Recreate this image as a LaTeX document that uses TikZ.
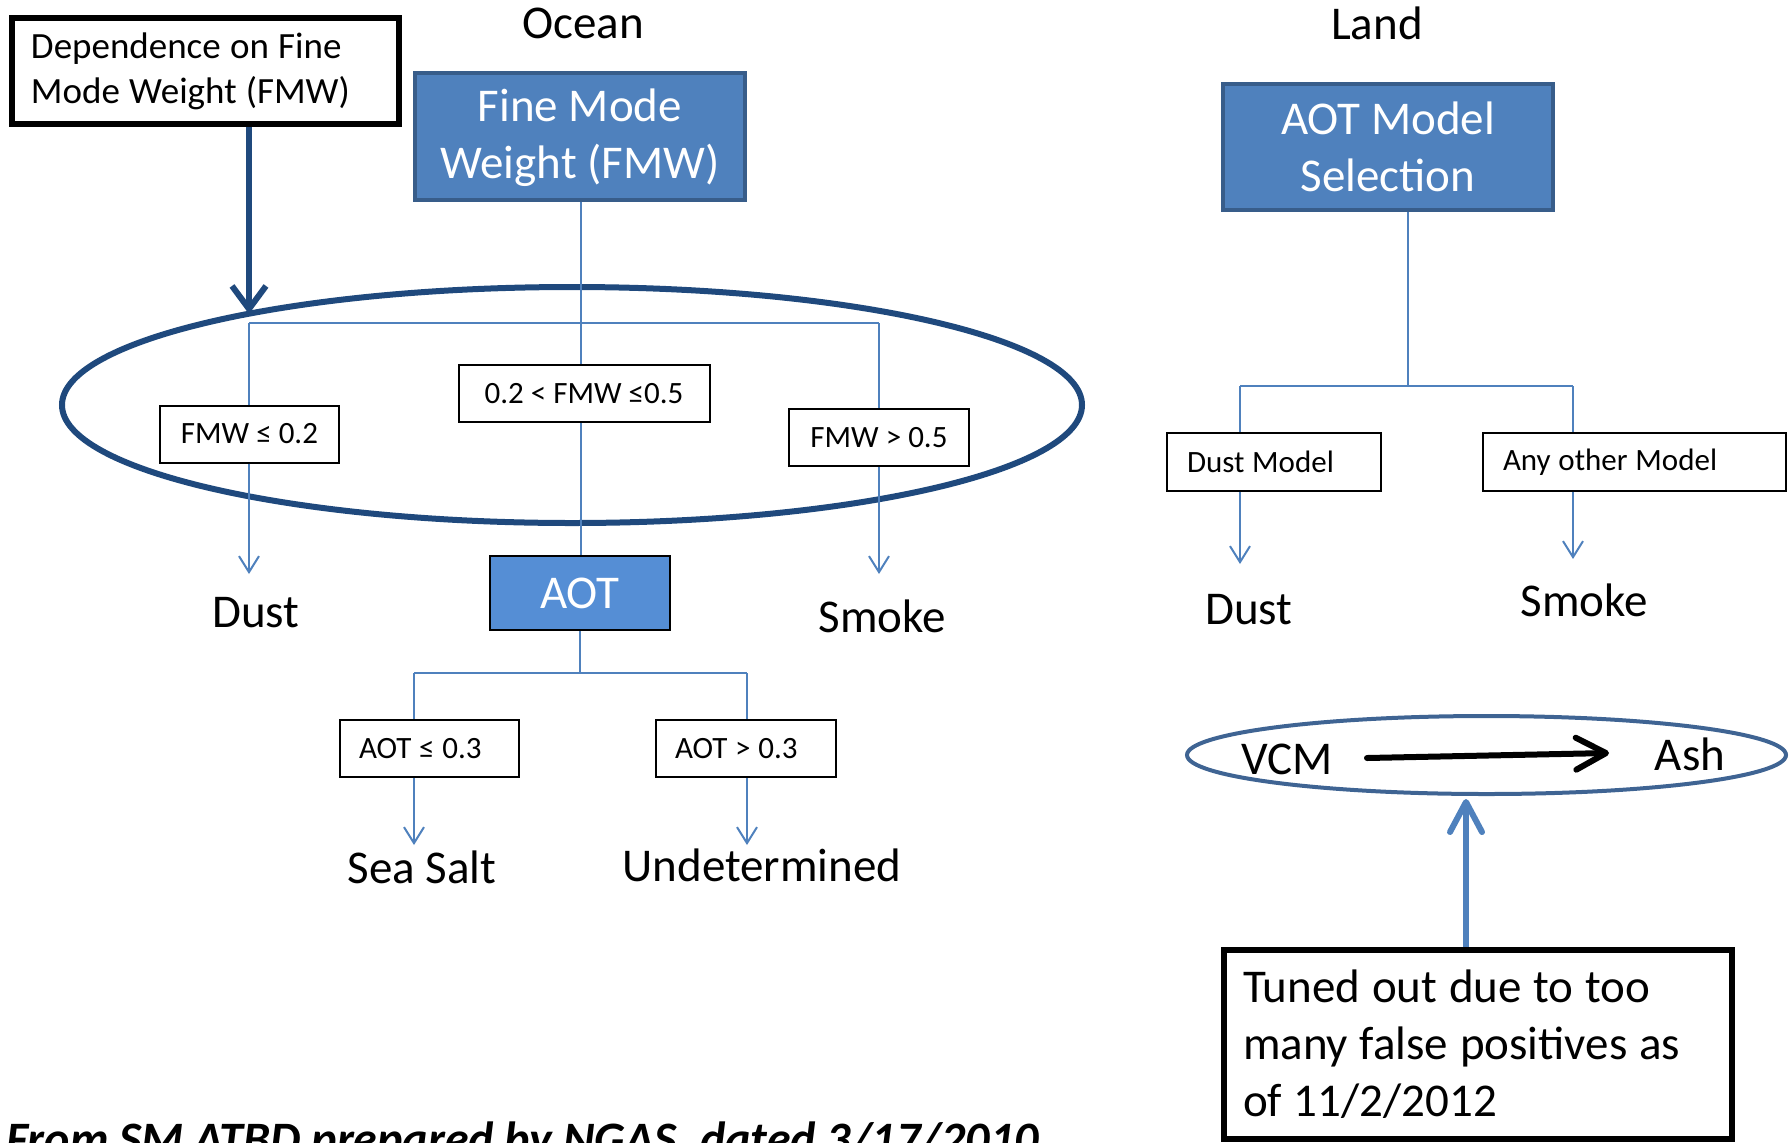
\documentclass[tikz,border=0pt]{standalone}
\usepackage{fontspec}
\setmainfont{Carlito}
\usetikzlibrary{arrows.meta,shapes.geometric}
\definecolor{acc}{HTML}{4F81BD}
\definecolor{accd}{HTML}{385D8A}
\definecolor{navy}{HTML}{1F497D}
\definecolor{aotblue}{HTML}{558ED5}
\definecolor{vcmblue}{HTML}{3F6493}
\newcommand{\natsp}{\spaceskip=0.25em\relax}
\begin{document}
\begin{tikzpicture}[x=0.5pt,y=-0.5pt,
  bigtxt/.style={font=\fontsize{23.5pt}{28.5pt}\selectfont},
  smalltxt/.style={font=\fontsize{15.5pt}{19pt}\selectfont},
  bluebox/.style={draw=accd, fill=acc, line width=2pt, text=white, bigtxt, align=center, inner sep=0pt},
  condbox/.style={draw=black, fill=white, line width=1pt, smalltxt, inner sep=0pt, minimum height=28.5pt},
  thinline/.style={acc, line width=1pt},
  sarrow/.style={thinline, -{Straight Barb[length=8pt,width=10pt]}},
  lbl/.style={bigtxt, inner sep=0pt},
]
\useasboundingbox (0,0) rectangle (1789,1142);
\clip (0,0) rectangle (1789,1142);

% ---------------- Ocean ----------------
\node[lbl] (ocean) at (583,23) {Ocean};
\node[draw=black, line width=3pt, text width=174.5pt, align=left, inner xsep=9.5pt,
      minimum height=53pt, font=\fontsize{18.5pt}{22.5pt}\selectfont] (dep) at (205.5,71)
      {\natsp Dependence on Fine\\Mode Weight (FMW)};
\node[bluebox, minimum width=165pt, minimum height=63.5pt] (fmw) at (580,136.5)
      {\rule{0pt}{18pt}Fine Mode\\Weight (FMW)};

\node[draw=navy, line width=3pt, ellipse, minimum width=510pt, minimum height=118pt, inner sep=0pt] (oval) at (572,405) {};

\coordinate (hl) at (249,323);
\coordinate (hr) at (879,323);
\coordinate (hm) at (581,323);

\node[condbox, minimum width=89.5pt] (c1) at (249.5,434) {FMW ≤ 0.2};
\node[condbox, minimum width=125.5pt] (c2) at (584,393.5) {0.2 < FMW ≤0.5};
\node[condbox, minimum width=90pt] (c3) at (879,437.5) {FMW > 0.5};

\node[draw=black, fill=aotblue, line width=1pt, text=white, bigtxt, inner sep=0pt,
      minimum width=90pt, minimum height=37pt] (aot) at (580,593) {AOT};

\coordinate (d1) at (249,574);
\coordinate (d3) at (879,574);
\node[lbl] (dust1) at (256,613) {Dust};
\node[lbl] (smoke1) at (882,616) {Smoke};

% tree lines
\draw[thinline] (fmw.south -| hm) -- (hm);
\draw[thinline] (hl) -- (hr);
\draw[thinline] (hl) -- (c1.north -| hl);
\draw[thinline] (hr) -- (c3.north -| hr);
\draw[thinline] (hm) -- (c2.north -| hm);
\draw[thinline] (c2.south -| hm) -- (aot.north -| hm);
\draw[sarrow] (c1.south -| d1) -- (d1);
\draw[sarrow] (c3.south -| d3) -- (d3);

% dependence arrow
\coordinate (depTip) at (249,314);
\draw[navy, line width=3pt, -{Straight Barb[length=11.5pt,width=17pt]}] (dep.south -| depTip) -- (depTip);

% AOT sub-tree
\coordinate (ah) at (580,673);
\coordinate (al) at (414,673);
\coordinate (ar) at (747,673);
\node[condbox, minimum width=89.5pt, text width=70.5pt, align=left, inner xsep=9.5pt] (a1) at (429.5,748.5) {\natsp AOT ≤ 0.3};
\node[condbox, minimum width=90pt, text width=71pt, align=left, inner xsep=9.5pt] (a2) at (746,748.5) {\natsp AOT > 0.3};
\coordinate (s1) at (414,845);
\coordinate (s2) at (747,845);
\draw[thinline] (aot.south) -- (ah);
\draw[thinline] (al) -- (ar);
\draw[thinline] (al) -- (a1.north -| al);
\draw[thinline] (ar) -- (a2.north -| ar);
\draw[sarrow] (a1.south -| s1) -- (s1);
\draw[sarrow] (a2.south -| s2) -- (s2);
\node[lbl] (seasalt) at (422,867) {Sea Salt};
\node[lbl] (undet) at (762,865) {Undetermined};

% ---------------- Land ----------------
\node[lbl] (land) at (1377,23) {Land};
\node[bluebox, minimum width=165pt, minimum height=63pt] (aotm) at (1388,147)
      {AOT Model\\Selection};
\coordinate (lm) at (1408,386);
\coordinate (ll) at (1240,386);
\coordinate (lr) at (1573,386);
\node[condbox, minimum height=29pt, text width=87pt, align=left, inner xsep=10pt] (dm) at (1274,462) {\natsp Dust Model};
\node[condbox, minimum height=29pt, text width=131.5pt, align=left, inner xsep=10pt] (om) at (1634.5,462) {\natsp Any other Model};
\draw[thinline] (aotm.south -| lm) -- (lm);
\draw[thinline] (ll) -- (lr);
\draw[thinline] (ll) -- (dm.north -| ll);
\draw[thinline] (lr) -- (om.north -| lr);
\coordinate (e1) at (1240,564);
\coordinate (e2) at (1573,559);
\draw[sarrow] (dm.south -| e1) -- (e1);
\draw[sarrow] (om.south -| e2) -- (e2);
\node[lbl] (dust2) at (1249,610) {Dust};
\node[lbl] (smoke2) at (1584,600) {Smoke};

% VCM
\node[draw=vcmblue, line width=2pt, ellipse, minimum width=299.5pt, minimum height=39pt, inner sep=0pt] (vcmoval) at (1486.5,755) {};
\node[lbl] (vcm) at (1287,759) {VCM};
\node[lbl] (ash) at (1690,754) {Ash};
\coordinate (va) at (1367,758);
\coordinate (vb) at (1609,753);
\draw[black, line width=3pt, line cap=round, -{Straight Barb[length=15pt,width=16pt,round]}] (va) -- (vb);

\node[draw=black, line width=3pt, text width=235pt, align=left, inner xsep=9.5pt,
      minimum height=94.5pt, bigtxt] (tuned) at (1478,1044.5)
      {\natsp Tuned out due to too\\many false positives as\\of 11/2/2012};
\coordinate (upTip) at (1466,799);
\draw[acc, line width=3pt, -{Straight Barb[length=15pt,width=16pt,round]}] (tuned.north -| upTip) -- (upTip);

% source note
\node[anchor=base west, inner sep=0pt, font=\bfseries\itshape\fontsize{24pt}{28pt}\selectfont] (src) at (6,1155)
      {From SM ATBD prepared by NGAS, dated 3/17/2010};
\end{tikzpicture}
\end{document}
